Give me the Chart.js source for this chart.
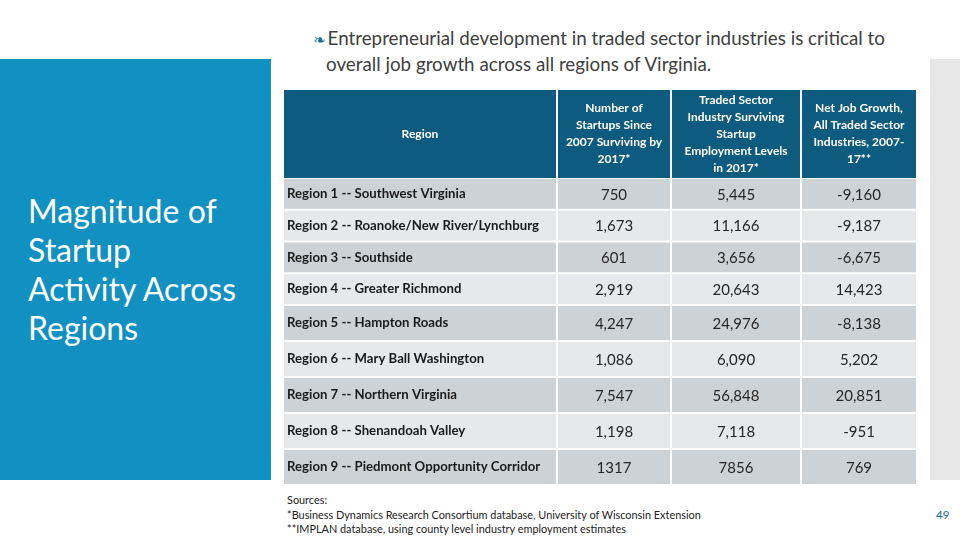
<!DOCTYPE html>
<html>
<head>
<meta charset="utf-8">
<script src="https://cdn.jsdelivr.net/npm/chart.js@4.4.1/dist/chart.umd.min.js"></script>
<style>
  html, body { margin:0; padding:0; background:#fff; width:960px; height:540px; overflow:hidden; font-family: Lato, "Open Sans", sans-serif; }
  #panel { position:absolute; left:0; top:59px; width:271px; height:421px; background:#1190c2; }
  #panel h1 { position:absolute; left:28px; top:132px; margin:0; color:#fff; font-weight:400; font-size:32px; line-height:39px; }
  #strip { position:absolute; left:930px; top:59px; width:30px; height:421px; background:#e6e6e6; }
  .tline { position:absolute; color:#404040; font-size:18.8px; line-height:24px; white-space:nowrap; }
  .bullet { color:#1b6f93; font-size:15px; margin-right:2px; font-family:"DejaVu Sans"; }
  .wrap { position:absolute; left:283px; width:634px; }
  #sources { position:absolute; left:287px; top:493px; font-size:10.9px; line-height:14.5px; color:#222; white-space:nowrap; }
  #page { position:absolute; left:936px; top:508px; font-size:11.5px; color:#1b6f93; }
</style>
</head>
<body>
<div id="panel"><h1>Magnitude of<br>Startup<br>Activity Across<br>Regions</h1></div>
<div id="strip"></div>
<div class="tline" style="left:313px;top:26px;"><span class="bullet">❧</span>Entrepreneurial development in traded sector industries is critical to</div>
<div class="tline" style="left:326px;top:52px;">overall job growth across all regions of Virginia.</div>

<div class="wrap" style="top:89px;height:90px;"><canvas id="head"></canvas></div>
<div class="wrap" style="top:178px;height:127px;"><canvas id="bodyA"></canvas></div>
<div class="wrap" style="top:305px;height:180px;"><canvas id="bodyB"></canvas></div>

<div id="sources">Sources:<br>*Business Dynamics Research Consortium database, University of Wisconsin Extension<br>**IMPLAN database, using county level industry employment estimates</div>
<div id="page">49</div>

<script>
// ---------------- data ----------------
const regions = [
  'Region 1 -- Southwest Virginia',
  'Region 2 -- Roanoke/New River/Lynchburg',
  'Region 3 -- Southside',
  'Region 4 -- Greater Richmond',
  'Region 5 -- Hampton Roads',
  'Region 6 -- Mary Ball Washington',
  'Region 7 -- Northern Virginia',
  'Region 8 -- Shenandoah Valley',
  'Region 9 -- Piedmont Opportunity Corridor'
];
const startupsSurviving = [750, 1673, 601, 2919, 4247, 1086, 7547, 1198, 1317];
const employmentLevels = [5445, 11166, 3656, 20643, 24976, 6090, 56848, 7118, 7856];
const netJobGrowth = [-9160, -9187, -6675, 14423, -8138, 5202, 20851, -951, 769];
const useThousandsSeparator = [true, true, true, true, true, true, true, true, false];
const columnHeaders = [
  ['Region'],
  ['Number of', 'Startups Since', '2007 Surviving by', '2017*'],
  ['Traded Sector', 'Industry Surviving', 'Startup', 'Employment Levels', 'in 2017*'],
  ['Net Job Growth,', 'All Traded Sector', 'Industries, 2007-', '17**']
];

// ---------------- layout / style ----------------
const colWidths = [274, 114, 130, 116];
const totalWidth = colWidths.reduce((a, b) => a + b, 0);
const HEADER_BG = '#0e5b80';
const ROW_DARK = '#cdd2d7';
const ROW_LIGHT = '#e6e8eb';
const FONT = 'Lato, "Open Sans", sans-serif';
Chart.defaults.font.family = FONT;

const numberSeries = [startupsSurviving, employmentLevels, netJobGrowth];
function fmt(v, i) {
  return useThousandsSeparator[i] ? v.toLocaleString('en-US') : String(v);
}

const cellTextPlugin = {
  id: 'cellText',
  afterDatasetsDraw(chart, args, opts) {
    const ctx = chart.ctx;
    chart.data.datasets.forEach((ds, di) => {
      if (!ds.cellLabels) return;
      const st = ds.cellStyle || opts;
      ctx.save();
      ctx.textAlign = st.align || 'center';
      ctx.textBaseline = 'middle';
      ctx.fillStyle = st.color;
      ctx.font = st.font;
      const meta = chart.getDatasetMeta(di);
      meta.data.forEach((bar, i) => {
        const p = bar.getProps(['x', 'y', 'base'], true);
        const tx = st.align === 'left' ? p.base + 4 : (p.x + p.base) / 2;
        const lab = ds.cellLabels[i];
        const lines = Array.isArray(lab) ? lab : [lab];
        const lh = st.lineHeight || 17;
        const y0 = p.y - (lines.length - 1) * lh / 2 + (st.dy || 0);
        lines.forEach((t, k) => ctx.fillText(t, tx, y0 + k * lh));
      });
      ctx.restore();
    });
  }
};

function baseOptions(textOpts) {
  return {
    indexAxis: 'y',
    responsive: true,
    maintainAspectRatio: false,
    animation: false,
    events: [],
    layout: { padding: 0 },
    plugins: { legend: { display: false }, tooltip: { enabled: false }, cellText: textOpts },
    scales: {
      x: { stacked: true, display: false, min: 0, max: totalWidth },
      y: { stacked: true, display: false }
    }
  };
}

const regionStyle = { align: 'left', color: '#1a1a1a', font: 'bold 13.2px ' + FONT, dy: 0 };

function bodyChart(id, start, end) {
  const idx = [];
  for (let i = start; i < end; i++) idx.push(i);
  const labels = idx.map(i => regions[i]);
  const datasets = colWidths.map((w, c) => ({
    data: idx.map(() => w),
    backgroundColor: idx.map(i => (i % 2 === 0 ? ROW_DARK : ROW_LIGHT)),
    borderColor: '#ffffff',
    borderWidth: 1,
    borderSkipped: false,
    inflateAmount: 0,
    barPercentage: 1,
    categoryPercentage: 1,
    cellStyle: c === 0 ? regionStyle : null,
    cellLabels: c === 0 ? labels : idx.map(i => fmt(numberSeries[c - 1][i], i))
  }));
  return new Chart(document.getElementById(id), {
    type: 'bar',
    data: { labels, datasets },
    options: baseOptions({ color: '#262626', font: '15px ' + FONT, lineHeight: 17, dy: 1 }),
    plugins: [cellTextPlugin]
  });
}

new Chart(document.getElementById('head'), {
  type: 'bar',
  data: {
    labels: ['header'],
    datasets: colWidths.map((w, c) => ({
      data: [w],
      backgroundColor: HEADER_BG,
      borderColor: '#ffffff',
      borderWidth: 1,
      borderSkipped: false,
      inflateAmount: 0,
      barPercentage: 1,
      categoryPercentage: 1,
      cellLabels: [columnHeaders[c]]
    }))
  },
  options: baseOptions({ color: '#ffffff', font: 'bold 12px ' + FONT, lineHeight: 17, dy: 0 }),
  plugins: [cellTextPlugin]
});
bodyChart('bodyA', 0, 4);
bodyChart('bodyB', 4, 9);
</script>
</body>
</html>
